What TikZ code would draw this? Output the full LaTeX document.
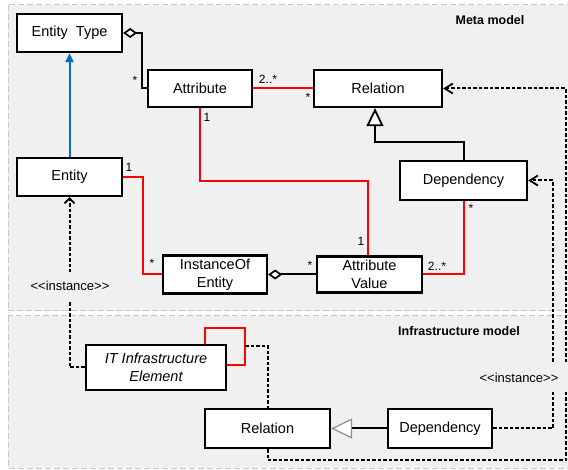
\documentclass[tikz,border=0pt]{standalone}
\usepackage{fontspec}
\setmainfont{Liberation Sans}
\usepackage{tikz}
\usetikzlibrary{arrows.meta}
\definecolor{panelgray}{HTML}{F0F0F0}
\definecolor{umlblue}{HTML}{0070C0}
\newcommand{\instlabel}{<\kern0pt<instance>\kern0pt>}

\begin{document}
\begin{tikzpicture}[x=1pt, y=-1pt,
        box/.style={draw, line width=2.3pt, fill=white, inner sep=0pt, align=center, font=\fontsize{14.5}{18}\selectfont},
        panel/.style={draw=black!22, fill=panelgray, line width=1pt, dash pattern=on 6pt off 3pt},
        assoc/.style={line width=2pt},
        link/.style={line width=2pt, red},
        realize/.style={line width=2pt, dash pattern=on 3.5pt off 2pt},
        mult/.style={font=\fontsize{12}{14}\selectfont, inner sep=0pt},
        stereo/.style={fill=panelgray, font=\fontsize{13}{15}\selectfont, inner xsep=1pt, minimum height=28pt},
        title/.style={font=\bfseries\fontsize{12.5}{14}\selectfont}]
        \useasboundingbox (0,0) rectangle (568,470);
        \path[panel] (8,5) rectangle (574,311);
        \path[panel] (8,316) rectangle (574,468);
        \node[title] (metatitle) at (490,20) {Meta model};
        \node[title] (infratitle) at (459,331) {Infrastructure model};
        %
        \node[box, minimum width=105pt, minimum height=38pt] (etype) at (69.5,33) {Entity\ \ Type};
        \node[box, minimum width=104pt, minimum height=37pt] (attr) at (200,88.5) {Attribute};
        \node[box, minimum width=128pt, minimum height=37pt] (rel) at (378,88.5) {Relation};
        \node[box, minimum width=105pt, minimum height=38pt] (entity) at (69.5,177) {Entity};
        \node[box, minimum width=104pt, minimum height=38pt] (inst) at (215,274.5) {InstanceOf\\Entity};
        \node[box, minimum width=105pt, minimum height=36pt] (aval) at (369.5,274.5) {Attribute\\Value};
        \node[box, minimum width=127pt, minimum height=39pt] (dep) at (463.5,180.5) {Dependency};
        \node[box, minimum width=140pt, minimum height=45pt, font=\itshape\fontsize{14.5}{18}\selectfont] (ite) at (156,367.5) {IT Infrastructure\\Element};
        \node[box, minimum width=125pt, minimum height=39pt] (irel) at (267.5,428.5) {Relation};
        \node[box, minimum width=104pt, minimum height=39pt] (idep) at (440,428.5) {Dependency};
        %
        \draw[assoc, {Diamond[fill=white,length=14pt,width=10pt,line width=1.7pt]}-] (etype.east) -- ++(19,0) |- (attr.west);
        \draw[assoc, umlblue, -{Triangle[length=9pt,width=8pt]}] (entity.north) -- (etype.south);
        \draw[link] (attr.east) -- (rel.west);
        \draw[assoc, -{Triangle[fill=white,length=18pt,width=17pt,line width=1.8pt]}] (dep.north) -- ++(0,-18) -| ([xshift=-3pt]rel.south);
        \draw[link] (attr.south) -- ++(0,73) -| ([xshift=-1.5pt]aval.north);
        \draw[link] (entity.east) -- ++(20,0) |- (inst.west);
        \draw[assoc, {Diamond[fill=white,length=14pt,width=10pt,line width=1.7pt]}-] (inst.east) -- (aval.west);
        \draw[link] (aval.east) -| (dep.south);
        %
        \draw[link] ([xshift=-22pt]ite.north east) -- ++(0,-16) -- ++(40,0) |- ([yshift=2.5pt]ite.east);
        \coordinate (loopout) at ([xshift=18pt,yshift=-2pt]ite.north east);
        \coordinate (outer) at (566,460);
        \coordinate (inner) at (553,428.5);
        \draw[realize] (loopout) -| (irel.north);
        \draw[realize, -{Straight Barb[length=5pt,width=10pt,line width=1.8pt]}] (ite.west) -| (entity.south);
        \draw[realize, -{Straight Barb[length=8pt,width=10pt,line width=1.8pt]}] (irel.south) |- (outer) |- (rel.east);
        \draw[realize, -{Straight Barb[length=8pt,width=10pt,line width=1.8pt]}] (idep.east) -- (inner) |- (dep.east);
        \draw[assoc, -{Triangle[length=21pt,width=20pt,fill=white,color=black!45,line width=1.2pt]}] (idep.west) -- (irel.east);
        \node[stereo] (st1) at (70,286) {\instlabel};
        \node[stereo, minimum width=97pt] (st2) at (519,378) {\instlabel};
        %
        \node[mult] (m1) at (135,80) {*};
        \node[mult] (m2) at (268,79) {2..*};
        \node[mult] (m3) at (308,97) {*};
        \node[mult] (m4) at (207,117) {1};
        \node[mult] (m5) at (129,167) {1};
        \node[mult] (m6) at (152,263) {*};
        \node[mult] (m7) at (310,265) {*};
        \node[mult] (m8) at (361,241) {1};
        \node[mult] (m9) at (437,266) {2..*};
        \node[mult] (m10) at (471,208) {*};
\end{tikzpicture}
\end{document}
